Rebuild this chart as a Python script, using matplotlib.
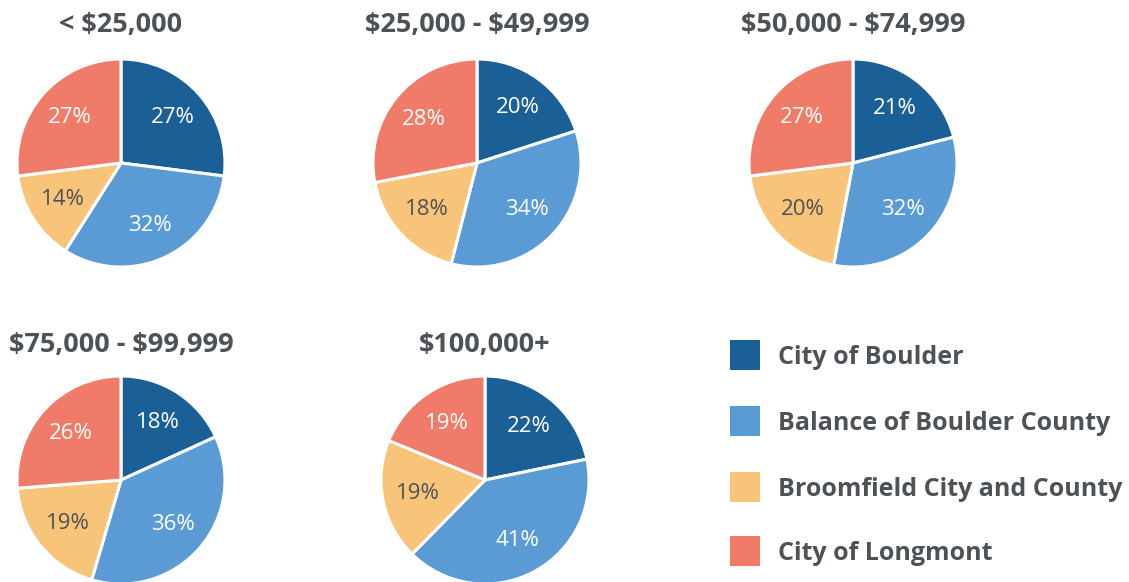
import matplotlib
matplotlib.use("Agg")
import matplotlib.pyplot as plt
from matplotlib.patches import Rectangle

plt.rcParams['font.family'] = ['Open Sans', 'DejaVu Sans']
plt.rcParams['text.parse_math'] = False

W, H = 1129, 582

income_groups = ["< $25,000", "$25,000 - $49,999", "$50,000 - $74,999",
                 "$75,000 - $99,999", "$100,000+"]
regions = ["City of Boulder", "Balance of Boulder County",
           "Broomfield City and County", "City of Longmont"]

boulder = [27, 20, 21, 18, 22]
balance = [32, 34, 32, 36, 41]
broomfield = [14, 18, 20, 19, 19]
longmont = [27, 28, 27, 26, 19]

colors = ["#1a6096", "#5b9bd5", "#f7c47a", "#f07b68"]
label_colors = ["white", "white", "#4d5257", "white"]
text_gray = "#4d5257"

# pie centres in pixels (x, y from top), radius in pixels
centers = [(121, 163), (477, 163), (853, 163), (121, 480), (485, 480)]
title_y = [25, 25, 25, 345, 345]
R = 104


def px_axes(fig, x0, y0_top, w, h):
    return fig.add_axes([x0 / W, 1 - (y0_top + h) / H, w / W, h / H])


def main():
    fig = plt.figure(figsize=(W / 100, H / 100), dpi=100)
    fig.patch.set_facecolor("white")

    for i, (cx, cy) in enumerate(centers):
        ax = px_axes(fig, cx - R, cy - R, 2 * R, 2 * R)
        vals = [boulder[i], balance[i], broomfield[i], longmont[i]]
        wedges, texts = ax.pie(
            vals, colors=colors, startangle=90, counterclock=False,
            radius=1.0, labels=[f"{v}%" for v in vals], labeldistance=0.66,
            wedgeprops=dict(edgecolor="white", linewidth=2.2),
            textprops=dict(fontsize=16, ha="center", va="center"))
        for t, c in zip(texts, label_colors):
            t.set_color(c)
            t.set_horizontalalignment("center")
        ax.set_xlim(-1.0, 1.0)
        ax.set_ylim(-1.0, 1.0)
        ax.set_aspect("equal")
        ax.axis("off")
        fig.text(cx / W, 1 - title_y[i] / H, income_groups[i],
                 ha="center", va="center", fontsize=19.5, fontweight="bold",
                 color=text_gray)

    # legend
    leg_y = [357, 423, 489, 553]
    for name, c, y in zip(regions, colors, leg_y):
        fig.patches.append(Rectangle((730 / W, 1 - (y + 13) / H), 30 / W, 30 / H,
                                     transform=fig.transFigure, facecolor=c,
                                     edgecolor="none"))
        fig.text(778 / W, 1 - y / H, name, ha="left", va="center",
                 fontsize=18, fontweight="bold", color=text_gray)

    fig.savefig("out.png", dpi=100)


if __name__ == "__main__":
    main()
